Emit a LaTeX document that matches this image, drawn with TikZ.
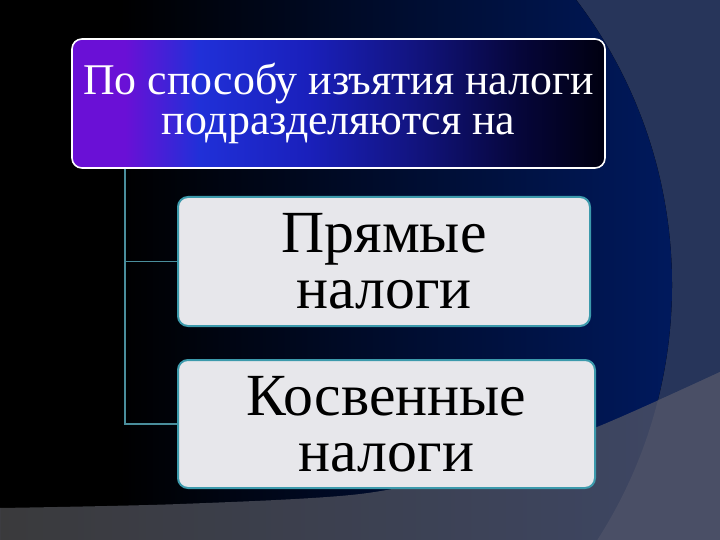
\documentclass[tikz,border=0pt]{standalone}
\usepackage{fontspec}
\setmainfont{Liberation Serif}
\definecolor{slate}{HTML}{27355A}
\definecolor{navyc}{HTML}{001A60}
\definecolor{bandL}{HTML}{3A3A3C}
\definecolor{bandR}{HTML}{3E4766}
\definecolor{bandOut}{HTML}{4A4F66}
\definecolor{tp}{HTML}{6A10D6}
\definecolor{tb}{HTML}{2030D8}
\definecolor{tm}{HTML}{1A20BC}
\definecolor{tn}{HTML}{121480}
\definecolor{tq}{HTML}{06063A}
\definecolor{tk}{HTML}{000010}
\definecolor{boxfill}{HTML}{E7E7EB}
\definecolor{boxline}{HTML}{3C9AAC}
\definecolor{connc}{HTML}{4A8E9C}
\pgfdeclarehorizontalshading{topgrad}{100bp}{color(0bp)=(tp); color(25bp)=(tp); color(30bp)=(tp); color(37bp)=(tb); color(47bp)=(tm); color(57bp)=(tn); color(67bp)=(tq); color(75bp)=(tk); color(100bp)=(tk)}
\tikzset{
  topbox/.style={rectangle, rounded corners=10bp, draw=white, line width=1.6bp,
    shade, shading=topgrad, minimum width=533bp, minimum height=129bp, inner sep=0pt,
    text=white, align=center, font=\fontsize{44}{41}\selectfont},
  subbox/.style={rectangle, rounded corners=10bp, draw=boxline, line width=2bp,
    fill=boxfill, inner sep=0pt, text=black, align=center,
    font=\fontsize{60}{56}\selectfont},
  conn/.style={draw=connc, line width=1.5bp}
}
\begin{document}
\begin{tikzpicture}[x=1bp,y=-1bp]
\useasboundingbox (0,0) rectangle (720,540);
% background
\fill[slate] (0,0) rectangle (720,540);
\begin{scope}
  \clip (200,285) circle [radius=472];
  \fill[black] (0,0) rectangle (720,540);
  \shade[left color=black,right color=navyc] (120,0) rectangle (690,540);
\end{scope}
\begin{scope}
  \clip plot[smooth] coordinates {(0,508) (180,504) (360,494) (480,468) (597,427) (720,372)} -- (720,540) -- (0,540) -- cycle;
  \shade[left color=bandL,right color=bandR] (0,360) rectangle (720,540);
  \fill[bandOut, even odd rule] (0,0) rectangle (720,540) (200,285) circle [radius=472];
\end{scope}
% diagram
\node[topbox] (top) at (338.5,103.5) {По способу изъятия налоги\\подразделяются на};
\node[subbox, minimum width=412bp, minimum height=129bp] (b1) at (384,261.5) {Прямые\\налоги};
\node[subbox, minimum width=417bp, minimum height=128bp] (b2) at (386.5,424) {Косвенные\\налоги};
\coordinate (trunk) at ([xshift=54bp]top.south west);
\draw[conn] (trunk) |- (b1.west);
\draw[conn] (trunk) |- (b2.west);
\end{tikzpicture}
\end{document}
